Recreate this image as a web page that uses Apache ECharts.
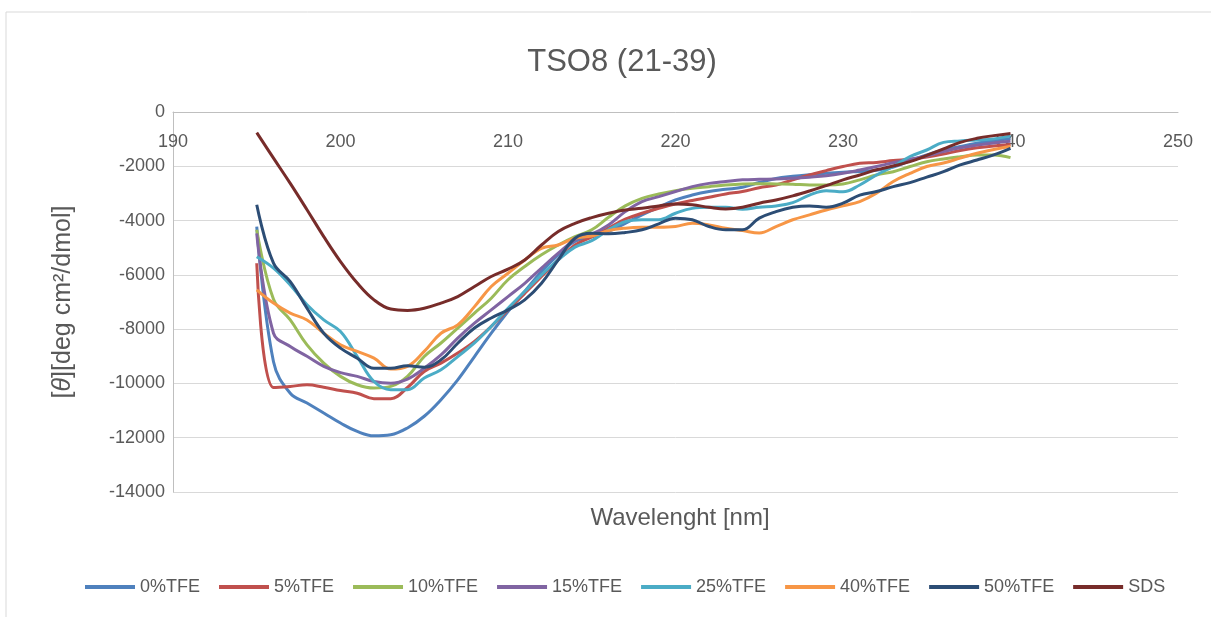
<!DOCTYPE html>
<html>
<head>
<meta charset="utf-8">
<script src="https://cdn.jsdelivr.net/npm/echarts@6/dist/echarts.min.js"></script>
<style>
  html, body { margin: 0; padding: 0; background: #fff; }
  #chart { width: 1211px; height: 617px; }
</style>
</head>
<body>
<div id="chart"></div>
<script>
// wavelength grid (nm)
const wavelengths = [195, 196, 197, 198, 199, 200, 201, 202, 203, 204, 205, 206, 207, 208, 209, 210,
  211, 212, 213, 214, 215, 216, 217, 218, 219, 220, 221, 222, 223, 224, 225, 226, 227, 228, 229, 230,
  231, 232, 233, 234, 235, 236, 237, 238, 239, 240]

const tfe0 = [-4220, -9200, -10360, -10720, -11090, -11460, -11770, -11930, -11890, -11640, -11210, -10600, -9870, -9010, -8150, -7350,
  -6610, -5880, -5260, -4770, -4600, -4400, -4100, -3790, -3510, -3240, -3060, -2930, -2850, -2770, -2600, -2450, -2370, -2310, -2260, -2220,
  -2190, -2150, -2030, -1800, -1580, -1400, -1270, -1150, -1060, -980]
const tfe5 = [-5570, -10150, -10110, -10050, -10140, -10260, -10360, -10560, -10560, -10150, -9560, -9250, -8880, -8450, -7900, -7290,
  -6680, -6060, -5450, -4900, -4600, -4280, -3950, -3730, -3550, -3390, -3260, -3140, -3020, -2930, -2790, -2690, -2500, -2320, -2160, -2010,
  -1890, -1860, -1790, -1740, -1660, -1550, -1420, -1320, -1250, -1200]
const tfe10 = [-4340, -6900, -7660, -8580, -9250, -9740, -10050, -10170, -10110, -9740, -9010, -8510, -7960, -7410, -6860, -6180,
  -5690, -5260, -4900, -4590, -4340, -3880, -3460, -3180, -3020, -2900, -2810, -2750, -2690, -2650, -2640, -2650, -2660, -2690, -2690, -2650,
  -2500, -2320, -2200, -2010, -1830, -1730, -1650, -1580, -1580, -1680]
const tfe15 = [-4470, -8150, -8640, -9000, -9370, -9600, -9740, -9930, -9990, -9840, -9440, -8950, -8330, -7780, -7290, -6800,
  -6310, -5750, -5200, -4710, -4500, -4160, -3670, -3300, -3120, -2930, -2750, -2630, -2560, -2500, -2480, -2470, -2440, -2400, -2350, -2260,
  -2140, -2010, -1870, -1740, -1620, -1460, -1320, -1220, -1140, -1080]
const tfe25 = [-5330, -5750, -6370, -7100, -7660, -8090, -9010, -9930, -10230, -10230, -9800, -9500, -9010, -8510, -7900, -7230,
  -6610, -6000, -5450, -4980, -4740, -4340, -4040, -3970, -3970, -3730, -3550, -3510, -3510, -3580, -3510, -3460, -3340, -3060, -2900, -2940,
  -2690, -2320, -2010, -1640, -1400, -1120, -1070, -1030, -990, -880]
const tfe40 = [-6550, -7040, -7410, -7660, -8150, -8580, -8820, -9070, -9470, -9370, -8820, -8150, -7840, -7170, -6430, -5940,
  -5450, -5020, -4900, -4650, -4570, -4370, -4280, -4250, -4250, -4220, -4100, -4160, -4280, -4370, -4460, -4220, -3970, -3790, -3610, -3460,
  -3300, -2990, -2560, -2260, -2010, -1880, -1700, -1520, -1380, -1260]
const tfe50 = [-3420, -5570, -6250, -7230, -8150, -8700, -9070, -9440, -9440, -9350, -9400, -9130, -8520, -7960, -7590, -7290,
  -6920, -6310, -5450, -4650, -4470, -4490, -4440, -4340, -4120, -3910, -3970, -4220, -4340, -4340, -3910, -3670, -3510, -3460, -3510, -3360,
  -3060, -2930, -2750, -2600, -2400, -2200, -1950, -1770, -1580, -1340]
const sds = [-760, -1700, -2630, -3600, -4590, -5510, -6300, -6920, -7260, -7310, -7230, -7040, -6800, -6430, -6060, -5790,
  -5450, -4900, -4400, -4100, -3890, -3730, -3610, -3550, -3460, -3390, -3420, -3510, -3570, -3510, -3360, -3240, -3090, -2910, -2710, -2500,
  -2320, -2130, -1990, -1830, -1600, -1360, -1120, -970, -870, -790]

const seriesNames = ['0%TFE', '5%TFE', '10%TFE', '15%TFE', '25%TFE', '40%TFE', '50%TFE', 'SDS']
const seriesValues = [tfe0, tfe5, tfe10, tfe15, tfe25, tfe40, tfe50, sds]
const colors = ['#4F81BD', '#C0504D', '#9BBB59', '#8064A2', '#4BACC6', '#F79646', '#2C4D75', '#772C2A']

const fontFamily = '"Liberation Sans", Arial, sans-serif'
const textColor = '#595959'

const chart = echarts.init(document.getElementById('chart'))

function buildSeries() {
  return seriesValues.map((values, index) => {
    return {
      name: seriesNames[index],
      type: 'line',
      data: values.map((v, i) => [wavelengths[i], v]),
      smooth: 0.4,
      symbol: 'none',
      lineStyle: {
        width: 3,
        color: colors[index]
      },
      itemStyle: {
        color: colors[index]
      }
    }
  })
}

chart.setOption({
  animation: false,
  color: colors,
  textStyle: {
    fontFamily: fontFamily
  },
  graphic: [{
    type: 'rect',
    shape: { x: 6, y: 12, width: 1260, height: 680 },
    style: { fill: 'none', stroke: '#d9d9d9', lineWidth: 1 },
    silent: true
  }],
  title: [{
    text: 'TSO8 (21-39)',
    left: 617,
    top: 42,
    textAlign: 'center',
    textStyle: {
      fontFamily: fontFamily,
      fontSize: 31,
      fontWeight: 'normal',
      color: textColor
    }
  }, {
    text: 'Wavelenght [nm]',
    left: 675,
    top: 501,
    textAlign: 'center',
    textStyle: {
      fontFamily: fontFamily,
      fontSize: 24,
      fontWeight: 'normal',
      color: textColor
    }
  }],
  legend: {
    data: seriesNames,
    top: 573,
    left: 80,
    icon: 'rect',
    itemWidth: 50,
    itemHeight: 4,
    itemGap: 19,
    textStyle: {
      fontFamily: fontFamily,
      fontSize: 18,
      color: textColor
    }
  },
  grid: {
    left: 173,
    right: 33,
    top: 112,
    bottom: 125,
    containLabel: false
  },
  xAxis: {
    type: 'value',
    position: 'top',
    min: 190,
    max: 250,
    interval: 10,
    axisLine: {
      show: true,
      lineStyle: { color: '#bfbfbf', width: 1 }
    },
    axisTick: { show: false },
    splitLine: { show: false },
    axisLabel: {
      inside: true,
      margin: 21,
      fontSize: 18,
      color: textColor,
      fontFamily: fontFamily
    }
  },
  yAxis: {
    type: 'value',
    min: -14000,
    max: 0,
    interval: 2000,
    name: '[{it|θ}][deg cm²/dmol]',
    nameLocation: 'middle',
    nameGap: 97,
    nameTextStyle: {
      fontFamily: fontFamily,
      fontSize: 25,
      color: textColor,
      rich: {
        it: {
          fontFamily: fontFamily,
          fontSize: 25,
          fontStyle: 'italic',
          color: textColor
        }
      }
    },
    axisLine: {
      show: true,
      lineStyle: { color: '#bfbfbf', width: 1 }
    },
    axisTick: { show: false },
    axisLabel: {
      margin: 8,
      fontSize: 18,
      color: textColor,
      fontFamily: fontFamily,
      formatter: (v) => String(v)
    },
    splitLine: {
      lineStyle: { color: '#d9d9d9', width: 1 }
    }
  },
  series: buildSeries()
})
</script>
</body>
</html>
